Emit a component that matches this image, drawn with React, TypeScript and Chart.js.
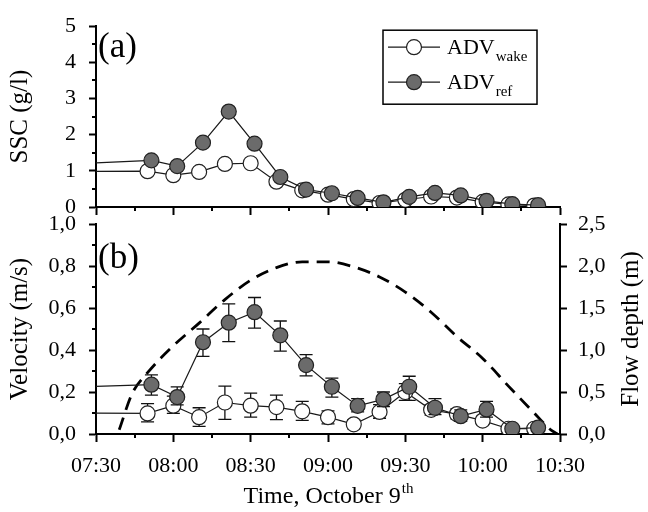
import React, { useEffect, useRef } from 'react';
import { Chart, registerables } from 'chart.js';

Chart.register(...registerables);

const FONT = '"Liberation Serif", "Times New Roman", serif';

// time axis: minutes after 07:30
const timeTickLabels = ['07:30', '08:00', '08:30', '09:00', '09:30', '10:00', '10:30'];
const TIME_MIN = 0;
const TIME_MAX = 180;
const TIME_STEP = 30;
const SSC_MAX = 5;
const SSC_STEP = 1;
const VEL_MAX = 1;
const VEL_STEP = 0.2;
const DEPTH_MAX = 2.5;
const DEPTH_STEP = 0.5;

const wakeTimes = [20, 30, 40, 50, 60, 70, 80, 90, 100, 110, 120, 130, 140, 150, 160, 170];
const refTimes = [21.5, 31.5, 41.5, 51.5, 61.5, 71.5, 81.5, 91.5, 101.5, 111.5, 121.5, 131.5, 141.5, 151.5, 161.5, 171.5];

// lines entering from before 07:30
const leadTime = -20;
const sscWakeLead = 0.98;
const sscRefLead = 1.16;
const velWakeLead = 0.1;
const velRefLead = 0.219;

// (a) SSC (g/l)
const sscWake = [0.99, 0.88, 0.97, 1.19, 1.21, 0.7, 0.46, 0.34, 0.22, 0.11, 0.2, 0.29, 0.26, 0.14, 0.07, 0.04];
const sscRef = [1.29, 1.13, 1.78, 2.64, 1.75, 0.83, 0.48, 0.38, 0.25, 0.13, 0.28, 0.39, 0.32, 0.17, 0.08, 0.05];

// (b) velocity (m/s) with error bars
const velWake = [0.098, 0.135, 0.08, 0.15, 0.135, 0.128, 0.108, 0.08, 0.046, 0.105, 0.2, 0.115, 0.095, 0.064, 0.025, 0.025];
const velWakeLow = [0.058, 0.098, 0.036, 0.07, 0.08, 0.068, 0.065, 0.048, 0.025, 0.075, 0.16, 0.09, 0.072, 0.045, 0.015, 0.015];
const velWakeHigh = [0.145, 0.18, 0.125, 0.228, 0.195, 0.185, 0.155, 0.11, 0.068, 0.14, 0.24, 0.14, 0.12, 0.085, 0.035, 0.035];

const velRef = [0.235, 0.176, 0.437, 0.53, 0.58, 0.47, 0.328, 0.225, 0.134, 0.165, 0.225, 0.125, 0.085, 0.117, 0.025, 0.03];
const velRefLow = [0.185, 0.139, 0.37, 0.44, 0.504, 0.395, 0.277, 0.176, 0.105, 0.131, 0.16, 0.092, 0.06, 0.08, 0.012, 0.018];
const velRefHigh = [0.282, 0.224, 0.5, 0.62, 0.65, 0.538, 0.378, 0.266, 0.168, 0.2, 0.275, 0.168, 0.115, 0.155, 0.038, 0.042];

// flow depth (m)
const depthTimes = [9, 14, 20, 30, 40, 50, 60, 70, 80, 90, 100, 110, 120, 130, 140, 150, 160, 170, 176, 179];
const depthValues = [0.05, 0.48, 0.73, 1.05, 1.32, 1.6, 1.83, 1.98, 2.05, 2.05, 1.99, 1.87, 1.69, 1.45, 1.16, 0.9, 0.57, 0.25, 0.06, 0.0];

const WAKE_FILL = '#ffffff';
const REF_FILL = '#6b6b6b';
const EDGE = '#222222';

function toPts(lt: number, lv: number | null, xs: number[], ys: number[]) {
  const pts: any[] = [];
  if (lv !== null) pts.push({ x: lt, y: lv });
  xs.forEach((x, i) => pts.push({ x, y: ys[i] }));
  return pts;
}

function withLead(arr: number[]) {
  return [null, ...arr];
}

const commaFmt = (v: any) => Number(v).toFixed(1).replace('.', ',');

function seriesStyle(fill: string) {
  return {
    borderColor: '#1a1a1a',
    borderWidth: 1.2,
    tension: 0,
    pointRadius: (c: any) => (c.dataIndex === 0 ? 0 : 7.5),
    pointBackgroundColor: fill,
    pointBorderColor: EDGE,
    pointBorderWidth: 1.2,
    fill: false,
  };
}

type TickDef = { id: string; side: string; step: number; len: number };

// short minor ticks half-way between the major (labelled) ticks
function drawMinorTicks(chart: any, defs: TickDef[]) {
  const ctx = chart.ctx;
  const area = chart.chartArea;
  ctx.save();
  ctx.strokeStyle = '#000';
  ctx.lineWidth = 2;
  ctx.setLineDash([]);
  for (const d of defs) {
    const scale = chart.scales[d.id];
    if (!scale) continue;
    const n = Math.round((scale.max - scale.min) / d.step);
    for (let k = 0; k < n; k++) {
      const v = scale.min + (k + 0.5) * d.step;
      const p = Math.round(scale.getPixelForValue(v));
      ctx.beginPath();
      if (d.side === 'bottom') {
        ctx.moveTo(p, area.bottom);
        ctx.lineTo(p, area.bottom + d.len);
      } else {
        ctx.moveTo(area.left, p);
        ctx.lineTo(area.left - d.len, p);
      }
      ctx.stroke();
    }
  }
  ctx.restore();
}

const errorBarPlugin = {
  id: 'errorBars',
  beforeDatasetDraw(chart: any, args: any) {
    const ds = chart.data.datasets[args.index];
    if (!ds.errLow) return;
    const { ctx } = chart;
    const xs = chart.scales.x;
    const ys = chart.scales[ds.yAxisID || 'y'];
    ctx.save();
    ctx.strokeStyle = '#111';
    ctx.lineWidth = 1.3;
    ds.data.forEach((p: any, i: number) => {
      const lo = ds.errLow[i];
      const hi = ds.errHigh[i];
      if (lo === null || lo === undefined) return;
      const x = xs.getPixelForValue(p.x);
      const y1 = ys.getPixelForValue(lo);
      const y2 = ys.getPixelForValue(hi);
      const cap = 6.5;
      ctx.beginPath();
      ctx.moveTo(x, y1);
      ctx.lineTo(x, y2);
      ctx.moveTo(x - cap, y1);
      ctx.lineTo(x + cap, y1);
      ctx.moveTo(x - cap, y2);
      ctx.lineTo(x + cap, y2);
      ctx.stroke();
    });
    ctx.restore();
  },
};

function drawMarker(ctx: CanvasRenderingContext2D, x: number, y: number, fill: string) {
  ctx.beginPath();
  ctx.arc(x, y, 7.5, 0, Math.PI * 2);
  ctx.fillStyle = fill;
  ctx.fill();
  ctx.lineWidth = 1.2;
  ctx.strokeStyle = EDGE;
  ctx.stroke();
}

const panelAPlugin = {
  id: 'panelA',
  afterDraw(chart: any) {
    const { ctx, chartArea } = chart;
    drawMinorTicks(chart, [
      { id: 'x', side: 'bottom', step: TIME_STEP, len: 4 },
      { id: 'y', side: 'left', step: SSC_STEP, len: 4 },
    ]);
    ctx.save();
    ctx.fillStyle = '#000';
    ctx.textAlign = 'left';
    ctx.textBaseline = 'alphabetic';
    ctx.font = `35px ${FONT}`;
    ctx.fillText('(a)', chartArea.left + 2, chartArea.top + 31);

    // legend
    const bx = chartArea.right - 177;
    const by = chartArea.top + 4;
    const bw = 154;
    const bh = 74;
    ctx.lineWidth = 1.5;
    ctx.strokeStyle = '#000';
    ctx.strokeRect(bx, by, bw, bh);
    const rows = [
      { y: by + 17, fill: WAKE_FILL, sub: 'wake' },
      { y: by + 52, fill: REF_FILL, sub: 'ref' },
    ];
    rows.forEach((r) => {
      ctx.beginPath();
      ctx.lineWidth = 1.2;
      ctx.strokeStyle = '#1a1a1a';
      ctx.moveTo(bx + 5, r.y);
      ctx.lineTo(bx + 57, r.y);
      ctx.stroke();
      drawMarker(ctx, bx + 31, r.y, r.fill);
      ctx.fillStyle = '#000';
      ctx.font = `22px ${FONT}`;
      ctx.fillText('ADV', bx + 64, r.y + 7);
      const w = ctx.measureText('ADV').width;
      ctx.font = `15px ${FONT}`;
      ctx.fillText(r.sub, bx + 64 + w + 1, r.y + 14);
    });
    ctx.restore();
  },
};

const panelBPlugin = {
  id: 'panelB',
  afterDraw(chart: any) {
    const { ctx, chartArea } = chart;
    drawMinorTicks(chart, [
      { id: 'x', side: 'bottom', step: TIME_STEP, len: 4 },
      { id: 'y', side: 'left', step: VEL_STEP, len: 4 },
    ]);
    ctx.save();
    ctx.fillStyle = '#000';
    ctx.textAlign = 'left';
    ctx.textBaseline = 'alphabetic';
    ctx.font = `35px ${FONT}`;
    ctx.fillText('(b)', chartArea.left + 2, chartArea.top + 44);

    // x title with superscript
    const main = 'Time, October 9';
    const sup = 'th';
    ctx.font = `24px ${FONT}`;
    const w1 = ctx.measureText(main).width;
    ctx.font = `15px ${FONT}`;
    const w2 = ctx.measureText(sup).width;
    const cx = (chartArea.left + chartArea.right) / 2;
    const x0 = cx - (w1 + w2) / 2;
    const base = chartArea.bottom + 69;
    ctx.font = `24px ${FONT}`;
    ctx.fillText(main, x0, base);
    ctx.font = `15px ${FONT}`;
    ctx.fillText(sup, x0 + w1 + 1, base - 10);

    // right axis title
    ctx.font = `25px ${FONT}`;
    ctx.textAlign = 'center';
    ctx.textBaseline = 'middle';
    ctx.translate(chartArea.right + 71, (chartArea.top + chartArea.bottom) / 2);
    ctx.rotate(-Math.PI / 2);
    ctx.fillText('Flow depth (m)', 0, 0);
    ctx.restore();
  },
};

const tickFont = { family: FONT, size: 22 };
const titleFont = { family: FONT, size: 25 };
const xGrid = { display: true, drawOnChartArea: false, drawTicks: true, tickLength: 8, tickWidth: 2, tickColor: '#000', color: '#000' };
const yGrid = { display: true, drawOnChartArea: false, drawTicks: true, tickLength: 7, tickWidth: 2, tickColor: '#000', color: '#000' };
const axisBorder = { display: true, color: '#000', width: 2 };

export default function App() {
  const topRef = useRef<HTMLCanvasElement>(null);
  const botRef = useRef<HTMLCanvasElement>(null);

  useEffect(() => {
    const c1 = new Chart(topRef.current as HTMLCanvasElement, {
      type: 'line',
      data: {
        datasets: [
          { label: 'ADV ref', data: toPts(leadTime, sscRefLead, refTimes, sscRef), ...seriesStyle(REF_FILL) } as any,
          { label: 'ADV wake', data: toPts(leadTime, sscWakeLead, wakeTimes, sscWake), ...seriesStyle(WAKE_FILL) } as any,
        ],
      },
      options: {
        responsive: false,
        animation: false,
        devicePixelRatio: 1,
        layout: { padding: { top: 17, right: 88, left: 0, bottom: 0 } },
        plugins: { legend: { display: false }, tooltip: { enabled: false } },
        scales: {
          x: {
            type: 'linear',
            min: TIME_MIN,
            max: TIME_MAX,
            ticks: { display: false, stepSize: TIME_STEP },
            grid: xGrid,
            border: axisBorder,
            afterFit: (s: any) => {
              s.height = 305;
            },
          },
          y: {
            type: 'linear',
            min: 0,
            max: SSC_MAX,
            ticks: { stepSize: SSC_STEP, padding: 13, color: '#000', font: tickFont },
            grid: yGrid,
            border: axisBorder,
            title: { display: true, text: 'SSC (g/l)', color: '#000', font: titleFont, padding: { top: 5, bottom: 0 } },
            afterFit: (s: any) => {
              s.width = 96;
            },
          },
        },
      } as any,
      plugins: [panelAPlugin],
    });

    const c2 = new Chart(botRef.current as HTMLCanvasElement, {
      type: 'line',
      data: {
        datasets: [
          {
            label: 'ADV ref',
            data: toPts(leadTime, velRefLead, refTimes, velRef),
            errLow: withLead(velRefLow),
            errHigh: withLead(velRefHigh),
            yAxisID: 'y',
            ...seriesStyle(REF_FILL),
          } as any,
          {
            label: 'ADV wake',
            data: toPts(leadTime, velWakeLead, wakeTimes, velWake),
            errLow: withLead(velWakeLow),
            errHigh: withLead(velWakeHigh),
            yAxisID: 'y',
            ...seriesStyle(WAKE_FILL),
          } as any,
          {
            label: 'Flow depth',
            data: toPts(0, null, depthTimes, depthValues),
            yAxisID: 'y2',
            borderColor: '#000',
            borderWidth: 2.8,
            borderDash: [13, 8],
            pointRadius: 0,
            cubicInterpolationMode: 'monotone',
            fill: false,
          } as any,
        ],
      },
      options: {
        responsive: false,
        animation: false,
        devicePixelRatio: 1,
        layout: { padding: { top: 224, right: 0, left: 0, bottom: 0 } },
        plugins: { legend: { display: false }, tooltip: { enabled: false } },
        scales: {
          x: {
            type: 'linear',
            min: TIME_MIN,
            max: TIME_MAX,
            ticks: {
              stepSize: TIME_STEP,
              padding: 11,
              color: '#000',
              font: tickFont,
              maxRotation: 0,
              autoSkip: false,
              callback: (_v: any, i: number) => timeTickLabels[i],
            },
            grid: xGrid,
            border: axisBorder,
            afterFit: (s: any) => {
              s.height = 78;
            },
          },
          y: {
            type: 'linear',
            position: 'left',
            min: 0,
            max: VEL_MAX,
            ticks: { stepSize: VEL_STEP, padding: 13, color: '#000', font: tickFont, callback: commaFmt },
            grid: yGrid,
            border: axisBorder,
            title: { display: true, text: 'Velocity (m/s)', color: '#000', font: titleFont, padding: { top: 5, bottom: 0 } },
            afterFit: (s: any) => {
              s.width = 96;
            },
          },
          y2: {
            type: 'linear',
            position: 'right',
            min: 0,
            max: DEPTH_MAX,
            ticks: { stepSize: DEPTH_STEP, padding: 11, color: '#000', font: tickFont, callback: commaFmt },
            grid: yGrid,
            border: axisBorder,
            afterFit: (s: any) => {
              s.width = 88;
            },
          },
        },
      } as any,
      plugins: [errorBarPlugin, panelBPlugin],
    });

    return () => {
      c1.destroy();
      c2.destroy();
    };
  }, []);

  return (
    <div style={{ position: 'absolute', left: 0, top: 0, width: 648, height: 512, background: '#fff' }}>
      <canvas ref={topRef} width={648} height={512} style={{ position: 'absolute', left: 0, top: 0 }} />
      <canvas ref={botRef} width={648} height={512} style={{ position: 'absolute', left: 0, top: 0 }} />
    </div>
  );
}
